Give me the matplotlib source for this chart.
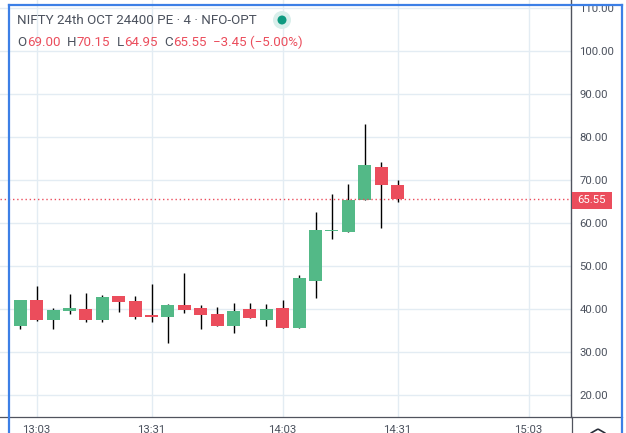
import matplotlib
matplotlib.use("Agg")
import matplotlib.pyplot as plt
from matplotlib.patches import Rectangle, Circle, RegularPolygon
from matplotlib.lines import Line2D

# ---- data ----
times = ["12:59", "13:03", "13:07", "13:11", "13:15", "13:19", "13:23", "13:27",
         "13:31", "13:35", "13:39", "13:43", "13:47", "13:51", "13:55", "13:59",
         "14:03", "14:07", "14:11", "14:15", "14:19", "14:23", "14:27", "14:31"]
opens  = [36.2, 42.2, 37.5, 39.6, 40.1, 37.5, 43.2, 41.9, 38.7, 38.2, 41.0, 40.3,
          38.9, 36.1, 40.1, 37.5, 40.3, 35.7, 46.6, 58.1, 58.0, 65.4, 73.1, 69.00]
highs  = [42.2, 45.5, 40.3, 43.6, 43.9, 43.4, 43.2, 43.2, 46.0, 41.2, 48.4, 41.0,
          40.5, 41.5, 41.5, 41.2, 42.2, 48.0, 62.6, 66.8, 69.1, 83.1, 74.25, 70.15]
lows   = [35.5, 37.3, 35.5, 39.0, 37.0, 37.0, 39.4, 37.7, 37.0, 32.2, 39.1, 35.4,
          36.1, 34.5, 38.0, 36.1, 35.6, 35.6, 42.6, 56.4, 58.0, 65.4, 58.9, 64.95]
closes = [42.2, 37.5, 39.8, 40.3, 37.5, 42.9, 41.7, 38.2, 38.2, 41.0, 39.8, 38.7,
          36.1, 39.6, 38.0, 40.1, 35.7, 47.3, 58.4, 58.2, 65.5, 73.6, 68.9, 65.55]
xtick_labels = ["13:03", "13:31", "14:03", "14:31", "15:03"]
ytick_values = [20, 30, 40, 50, 60, 70, 80, 90, 100, 110]
last_price = 65.55
title = "NIFTY 24th OCT 24400 PE · 4 · NFO-OPT"

UP = "#53b987"
DOWN = "#eb4d5c"
GRID = "#e3ecf3"
TXT = "#4c525e"
AXLINE = "#50535e"
BLUE = "#3c7fe6"

def to_min(t):
    h, m = t.split(":")
    return (int(h) - 13) * 60 + int(m)

W, H = 626, 433
fig = plt.figure(figsize=(W / 100, H / 100), dpi=100)
fig.patch.set_facecolor("white")
ax_right_px = 571
ax_bottom_px = 417
ax = fig.add_axes([0, (H - ax_bottom_px) / H, ax_right_px / W, ax_bottom_px / H])

ppm = 4.1  # px per minute
x0 = 3 - 36.7 / ppm
x1 = 3 + (ax_right_px - 36.7) / ppm
ax.set_xlim(x0, x1)
ppu = 4.3
ax.set_ylim(70 - (ax_bottom_px - 180.3) / ppu, 70 + 180.3 / ppu)

xs = [to_min(t) for t in times]
bw = 13 / ppm
for x, o, h, l, c in zip(xs, opens, highs, lows, closes):
    col = UP if c >= o else DOWN
    ax.vlines(x, l, h, color="black", linewidth=1.0, zorder=3)
    bot = min(o, c)
    ht = max(abs(c - o), 0.25)
    ax.add_patch(Rectangle((x - bw / 2, bot), bw, ht, facecolor=col,
                           edgecolor="none", zorder=4))

# grid
for v in ytick_values:
    ax.axhline(v, color=GRID, linewidth=1.0, zorder=0)
for t in xtick_labels:
    ax.axvline(to_min(t), color=GRID, linewidth=1.0, zorder=0)

# last price line
ax.axhline(last_price, color=DOWN, linewidth=1.0, linestyle=(0, (1, 2)), zorder=5)

for s in ["top", "left", "bottom", "right"]:
    ax.spines[s].set_visible(False)
ax.spines["right"].set_visible(True)
ax.spines["right"].set_color(AXLINE)
ax.spines["right"].set_linewidth(1.0)

ax.yaxis.tick_right()
ax.set_yticks(ytick_values)
ax.set_yticklabels([f"{v:.2f}" for v in ytick_values])
ax.set_xticks([to_min(t) for t in xtick_labels])
ax.set_xticklabels(xtick_labels)
ax.tick_params(axis="y", length=0, pad=6, labelsize=8.2, labelcolor=TXT)
ax.tick_params(axis="x", length=0, pad=6, labelsize=8.2, labelcolor=TXT)
for lab in ax.get_yticklabels() + ax.get_xticklabels():
    lab.set_fontfamily("Roboto")

# figure-level helpers in pixel coords (y from top)
def fx(px):
    return px / W
def fy(py):
    return 1 - py / H
def ip(px, py):
    # inches coords for dpi_scale_trans (keeps circles round)
    return (px / 100, (H - py) / 100)

# bottom separator
fig.add_artist(Line2D([fx(0), fx(622)], [fy(417), fy(417)], color=AXLINE, linewidth=0.9))
# right axis line through time scale
fig.add_artist(Line2D([fx(571.5), fx(571.5)], [fy(417), fy(433)], color=AXLINE, linewidth=0.9))

# price label
fig.add_artist(Rectangle((fx(572), fy(208.5)), fx(612) - fx(572), fy(191.5) - fy(208.5),
                         transform=fig.transFigure, facecolor=DOWN, edgecolor="none"))
fig.text(fx(592), fy(200), f"{last_price:.2f}", color="white", fontsize=8.2,
         family="Roboto", ha="center", va="center")

# header
fig.text(fx(17), fy(20.5), title, color=TXT, fontsize=9.6, family="Roboto",
         ha="left", va="center")
vals = [("O", "69.00"), ("H", "70.15"), ("L", "64.95"), ("C", "65.55")]
r = fig.canvas.get_renderer()
xpos = fx(17)
for letter, val in vals:
    t1 = fig.text(xpos, fy(42.5), letter, color=TXT, fontsize=9.6, family="Roboto",
                  ha="left", va="center")
    bb = t1.get_window_extent(r)
    xpos = bb.x1 / W + 0.5 / W
    t2 = fig.text(xpos, fy(42.5), val, color=DOWN, fontsize=9.6, family="Roboto",
                  ha="left", va="center")
    bb = t2.get_window_extent(r)
    xpos = bb.x1 / W + 6.5 / W
fig.text(xpos, fy(42.5), "\u22123.45 (\u22125.00%)", color=DOWN, fontsize=9.6,
         family="Roboto", ha="left", va="center")

# status dot
fig.add_artist(Circle(ip(282, 20), 0.09, transform=fig.dpi_scale_trans,
                      facecolor="#d9efeb", edgecolor="none"))
fig.add_artist(Circle(ip(282, 20), 0.045, transform=fig.dpi_scale_trans,
                      facecolor="#0e9a80", edgecolor="none"))

# settings icon (partially visible)
fig.add_artist(RegularPolygon(ip(598, 437), numVertices=6, radius=0.08,
                              transform=fig.dpi_scale_trans, facecolor="none",
                              edgecolor="#2a2e39", linewidth=1.2))

# blue selection frame
fig.add_artist(Line2D([fx(9), fx(9)], [fy(433), fy(5)], color=BLUE, linewidth=1.6))
fig.add_artist(Line2D([fx(9), fx(622)], [fy(5), fy(5)], color=BLUE, linewidth=1.6))
fig.add_artist(Line2D([fx(622), fx(622)], [fy(5), fy(433)], color=BLUE, linewidth=1.6))

fig.savefig("out.png", dpi=100, facecolor="white")
